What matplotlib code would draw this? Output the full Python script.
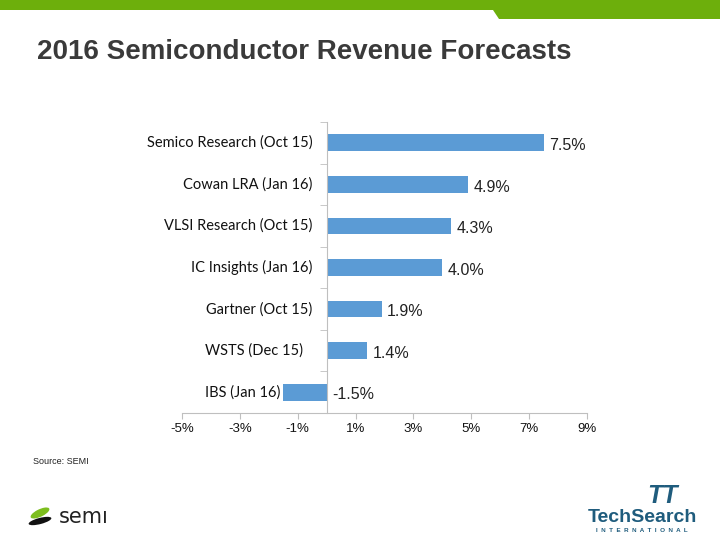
import numpy as np
import matplotlib
matplotlib.use("Agg")
import matplotlib.pyplot as plt
from matplotlib.patches import Polygon, Ellipse

# === Dados ===
categorias = ["Semico Research (Oct 15)", "Cowan LRA (Jan 16)", "VLSI Research (Oct 15)",
              "IC Insights (Jan 16)", "Gartner (Oct 15)", "WSTS (Dec 15)", "IBS (Jan 16)"]
valores = [7.5, 4.9, 4.3, 4.0, 1.9, 1.4, -1.5]
rotulos_valor = ["7.5%", "4.9%", "4.3%", "4.0%", "1.9%", "1.4%", "-1.5%"]
ticks_x = [-5, -3, -1, 1, 3, 5, 7, 9]
rotulos_x = ["-5%", "-3%", "-1%", "1%", "3%", "5%", "7%", "9%"]
titulo = "2016 Semiconductor Revenue Forecasts"
fonte = "Source: SEMI"

AZUL = "#5B9BD5"
VERDE = "#6DAF0C"
CINZA = "#BFBFBF"

fig = plt.figure(figsize=(7.2, 5.4), dpi=100)

# faixa verde no topo (coordenadas em pixels da figura)
W, H = 720, 540
def px(x, y):
    return (x / W, 1 - y / H)

faixa = Polygon([px(0, 0), px(720, 0), px(720, 19), px(499, 19), px(493, 10), px(0, 10)],
                closed=True, transform=fig.transFigure, facecolor=VERDE, edgecolor="none")
fig.patches.append(faixa)

fig.text(37 / W, 1 - 52 / H, titulo, fontsize=20, fontweight="bold", color="#3A3A3A",
         family="Liberation Sans", va="center", ha="left")
fig.text(33 / W, 1 - 461 / H, fonte, fontsize=6.5, color="#222222",
         family="Liberation Sans", va="center", ha="left")

# === Gráfico ===
ax = fig.add_axes([182 / W, 1 - 413 / H, (587 - 182) / W, (413 - 122) / H])
y = np.arange(len(categorias))
ax.barh(y, valores, height=0.4, color=AZUL, zorder=2)
ax.set_xlim(-5, 9)
ax.set_ylim(len(categorias) - 0.5, -0.5)

for s in ["top", "right"]:
    ax.spines[s].set_visible(False)
ax.spines["left"].set_position(("data", 0))
ax.spines["left"].set_color(CINZA)
ax.spines["bottom"].set_color(CINZA)

ax.set_xticks(ticks_x, rotulos_x)
ax.tick_params(axis="x", colors=CINZA, length=4, labelcolor="#111111", labelsize=9.5)
for lbl in ax.get_xticklabels():
    lbl.set_family("Liberation Sans")

ax.set_yticks(y, [""] * len(y))
ax.set_yticks(np.arange(-0.5, len(categorias)), minor=True)
ax.tick_params(axis="y", which="major", length=0)
ax.tick_params(axis="y", which="minor", length=5, color=CINZA, direction="out")

# rótulos das categorias
for i, nome in enumerate(categorias):
    if i < 5:
        ax.text(-0.5, i, nome, ha="right", va="center", fontsize=10.5,
                family="Lato", color="#111111")
    else:
        ax.text(-4.2, i, nome, ha="left", va="center", fontsize=10.5,
                family="Lato", color="#111111")

# rótulos de valor
for i, (v, r) in enumerate(zip(valores, rotulos_valor)):
    ax.annotate(r, xy=(max(v, 0), i), xytext=(4, -2), textcoords="offset points",
                ha="left", va="center", fontsize=11.5, family="Liberation Sans",
                color="#222222")

# === Logos (aproximação) ===
folha = Ellipse(px(40, 513), 22 / W, 7 / H, angle=35, transform=fig.transFigure,
                facecolor="#7DBE1E", edgecolor="none")
folha2 = Ellipse(px(40, 521), 24 / W, 6 / H, angle=20, transform=fig.transFigure,
                 facecolor="#111111", edgecolor="none")
fig.patches.extend([folha, folha2])
fig.text(59 / W, 1 - 517 / H, "semı", fontsize=15, color="#222222",
         family="DejaVu Sans", va="center", ha="left")

fig.text(642 / W, 1 - 517 / H, "TechSearch", fontsize=14, fontweight="bold", color="#1F5C7D",
         family="Liberation Sans", va="center", ha="center")
fig.text(642 / W, 1 - 531 / H, "I  N  T  E  R  N  A  T  I  O  N  A  L", fontsize=4.5,
         fontweight="bold", color="#1F5C7D", family="Liberation Sans", va="center", ha="center")
fig.text(662 / W, 1 - 496 / H, "TT", fontsize=18, fontweight="bold", fontstyle="italic",
         color="#1F5C7D", family="Liberation Sans", va="center", ha="center")

fig.savefig("out.png", dpi=100)
